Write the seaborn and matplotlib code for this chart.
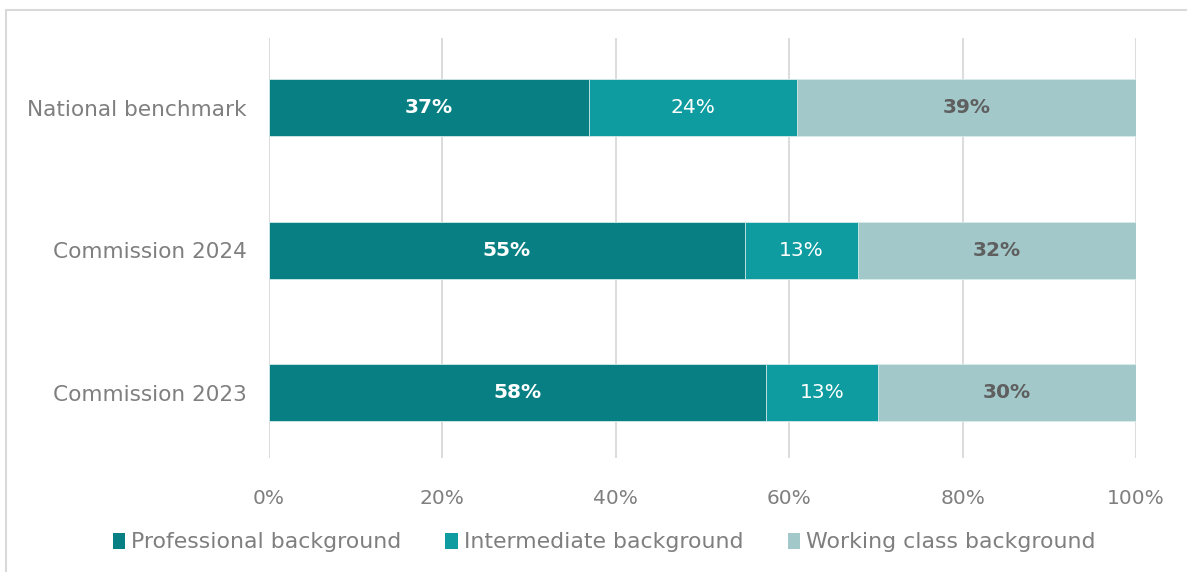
import pandas as pd
import seaborn as sns
import matplotlib.pyplot as plt
from matplotlib.patches import Patch, Rectangle

# data
groups = ["National benchmark", "Commission 2024", "Commission 2023"]
professional = [36.9, 54.9, 57.3]
intermediate = [24.0, 13.0, 12.9]
working = [39.1, 32.1, 29.8]
prof_labels = ["37%", "55%", "58%"]
inter_labels = ["24%", "13%", "13%"]
work_labels = ["39%", "32%", "30%"]
series = ["Professional background", "Intermediate background", "Working class background"]
colors = ["#087f83", "#0e9ca0", "#a2c8ca"]

df = pd.DataFrame({
    "group": groups,
    "prof": professional,
    "inter": intermediate,
    "work": working,
})
df["c1"] = df["prof"]
df["c2"] = df["prof"] + df["inter"]
df["c3"] = df["c2"] + df["work"]

sns.set_theme(style="white")
plt.rcParams["font.family"] = ["DejaVu Sans"]

fig = plt.figure(figsize=(11.87, 5.72), dpi=100)
ax = fig.add_axes([0.2266, 0.1993, 0.7305, 0.7343])

# stack by overlaying cumulative totals
for col, c in zip(["c3", "c2", "c1"], colors[::-1]):
    sns.barplot(data=df, x=col, y="group", orient="h", color=c, width=0.4,
                edgecolor="#d8ecec", linewidth=0.6, saturation=1, ax=ax, zorder=3)

# segment labels
for i in range(len(groups)):
    ax.text(df["prof"][i] / 2, i, prof_labels[i], ha="center", va="center",
            color="white", fontsize=14.5, fontweight="bold", zorder=5)
    ax.text(df["c1"][i] + df["inter"][i] / 2, i, inter_labels[i], ha="center", va="center",
            color="white", fontsize=14.5, zorder=5)
    ax.text(df["c2"][i] + df["work"][i] / 2, i, work_labels[i], ha="center", va="center",
            color="#5f5f5f", fontsize=14.5, fontweight="bold", zorder=5)

ax.set_xlim(0, 100)
ax.set_ylim(2.46, -0.49)
ax.set_xticks([0, 20, 40, 60, 80, 100])
ax.set_xticklabels([f"{t}%" for t in range(0, 101, 20)])
ax.xaxis.grid(True, color="#d9d9d9", linewidth=1.3, zorder=0)
ax.set_axisbelow(True)
for s in ax.spines.values():
    s.set_visible(False)
ax.set_xlabel("")
ax.set_ylabel("")
ax.tick_params(axis="x", pad=22, labelsize=14.5, labelcolor="#7f7f7f", length=0)
ax.tick_params(axis="y", pad=16, labelsize=15.6, labelcolor="#7f7f7f", length=0)

handles = [Patch(facecolor=c, edgecolor="none") for c in colors]
leg = fig.legend(handles, series, loc="center", bbox_to_anchor=(0.509, 0.052), ncol=3,
                 frameon=False, fontsize=15.8, handlelength=0.55, handleheight=0.75,
                 handletextpad=0.3, columnspacing=2.0)
for t in leg.get_texts():
    t.set_color("#7f7f7f")

# light frame around the chart area
fig.patches.append(Rectangle((0.005, -0.1), 1.2, 1.083, transform=fig.transFigure,
                             fill=False, edgecolor="#d9d9d9", linewidth=1.5))

fig.savefig("out.png", dpi=100)
